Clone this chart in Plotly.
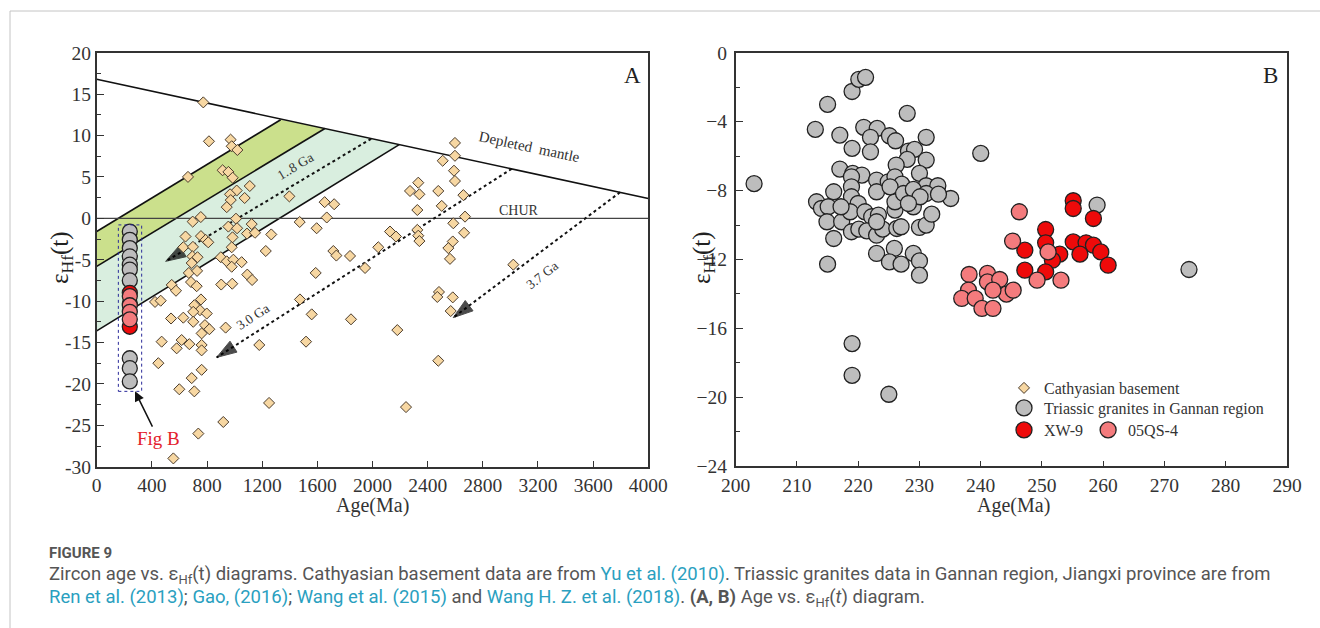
import plotly.graph_objects as go

# ---------------- Panel A: Cathyasian basement zircons ----------------
basement_age = [773, 814, 971, 979, 1020, 662, 913, 955, 986, 1110, 1015, 967, 972, 1073, 943,
                1397, 1653, 1722, 1668, 1472, 1595, 696, 755, 1010, 955, 1018, 1124, 1090, 1148,
                1266, 985, 644, 756, 790, 809, 628, 698, 979, 1226, 1716, 1738, 1837, 694, 731,
                900, 943, 991, 1051, 689, 1946, 1588, 668, 728, 979, 1092, 1127, 684, 725, 544,
                575, 903, 983, 423, 464, 756, 708, 749, 798, 700, 628, 539, 700, 785, 817, 935,
                761, 1474, 1559, 1844, 471, 616, 672, 580, 761, 761, 1179, 1518, 447, 761, 689,
                599, 708, 1250, 918, 737, 556,
                2598, 2598, 2509, 2591, 2598, 2332, 2272, 2340, 2477, 2659, 2502, 2325, 2671,
                2586, 2664, 2127, 2170, 2325, 2332, 2340, 2582, 2550, 2042, 2562, 3021, 2482,
                2470, 2582, 2567, 2180, 2477, 2243]
basement_eps = [14.0, 9.3, 9.5, 8.7, 8.25, 5.0, 5.8, 5.6, 4.9, 3.9, 3.35, 2.9, 2.2, 2.45, 1.35,
                2.65, 1.95, 1.7, 0.1, -0.45, -1.2, -0.4, 0.15, -0.05, -1.0, -1.2, -0.7, -1.85, -1.75,
                -1.95, -2.3, -2.2, -2.15, -2.6, -2.9, -3.5, -3.45, -3.5, -3.95, -3.95, -4.5, -4.55,
                -4.6, -4.7, -4.7, -5.2, -5.0, -5.3, -5.4, -6.0, -6.6, -6.6, -6.35, -5.85, -6.8,
                -7.45, -7.7, -8.2, -8.05, -8.75, -8.0, -7.9, -10.1, -9.95, -9.8, -10.5, -11.1,
                -11.5, -11.3, -12.0, -12.1, -12.5, -12.9, -13.4, -13.2, -13.9, -9.8, -11.6, -12.2,
                -14.9, -14.7, -15.2, -15.7, -15.3, -15.95, -15.3, -14.9, -17.5, -18.3, -19.3,
                -20.65, -20.9, -22.3, -24.6, -26.0, -29.0,
                9.1, 7.55, 6.95, 5.75, 4.5, 4.3, 3.3, 2.9, 3.3, 2.8, 1.5, 1.0, 0.2,
                -0.6, -1.75, -1.6, -2.2, -1.4, -2.1, -2.75, -2.8, -3.6, -3.5, -4.9, -5.6, -8.9,
                -9.5, -9.55, -11.2, -13.5, -17.2, -22.8]

# Summary column of the Triassic samples plotted at ~240 Ma
column_age = 240
column_gray_eps = [-1.6, -2.6, -3.6, -4.6, -5.6, -6.2, -7.5, -16.9, -18.1, -19.7]
column_red_eps = [-9.0, -10.3, -13.1]
column_pink_eps = [-9.4, -10.5, -11.3, -12.2]

# Reference curves (age in Ma, epsilon Hf)
dm_age = [0, 4000]
dm_eps = [16.8, 2.4]
chur_age = [0, 4000]
chur_eps = [0, 0]
band_upper_age = [0, 1334, 1655, 0]
band_upper_eps = [-1.6, 11.9, 10.85, -5.8]
band_lower_age = [0, 1655, 2194, 0]
band_lower_eps = [-5.8, 10.85, 8.9, -13.6]
evo_lines = [([0, 1334], [-1.6, 11.9]), ([0, 1655], [-5.8, 10.85]), ([0, 2194], [-13.6, 8.9])]
# Crustal evolution trends (start on depleted mantle, end at arrow tip)
trend_age = [[1990, 500], [3009, 870], [3795, 2585]]
trend_eps = [[9.6, -5.2], [5.97, -16.8], [3.14, -12.0]]
trend_labels = ["1..8 Ga", "3.0 Ga", "3.7 Ga"]
trend_label_age = [1438, 1136, 3227]
trend_label_eps = [6.2, -11.9, -6.85]
trend_label_angle = [-31, -33, -38]

# ---------------- Panel B: Triassic granites, Gannan region ----------------
gannan_age = [203.0, 215.0, 213.0, 219.0, 220.1, 221.2, 228.0, 217.0, 220.9, 223.1, 222.0, 225.1,
              226.1, 231.1, 219.0, 222.0, 228.2, 229.2, 228.0, 231.1, 226.2, 240.0, 217.0, 219.1,
              220.6, 223.0, 224.9, 226.0, 227.1, 230.0, 231.1, 233.0, 235.1, 218.9, 218.9, 216.0,
              213.2, 214.0, 215.1, 214.9, 216.0, 215.0, 217.3, 218.9, 220.0, 218.7, 221.1, 222.2,
              223.3, 218.9, 220.1, 221.4, 223.0, 224.0, 226.3, 227.0, 230.0, 231.1, 232.0, 229.0,
              226.0, 226.0, 223.0, 225.2, 227.4, 229.0, 231.1, 233.1, 230.1, 228.2, 223.0, 223.0,
              225.9, 225.1, 227.0, 229.0, 230.0, 230.0, 217.2, 219.0, 219.0, 225.0, 259.0, 274.0]
gannan_eps = [-7.6, -3.0, -4.45, -2.25, -1.55, -1.43, -3.52, -4.78, -4.33, -4.39, -4.91, -4.82,
              -5.11, -4.91, -5.55, -5.75, -5.71, -5.61, -6.19, -6.23, -6.52, -5.84, -6.75, -7.0,
              -7.1, -7.39, -7.49, -7.2, -7.63, -7.0, -7.72, -7.72, -8.46, -7.2, -7.78, -8.07,
              -8.65, -9.04, -8.94, -9.81, -10.78, -12.27, -9.81, -8.36, -8.75, -9.23, -9.23, -9.52,
              -9.42, -10.39, -10.24, -10.34, -10.59, -10.24, -10.2, -10.1, -10.14, -10.0, -9.37, -8.94,
              -9.13, -8.65, -8.07, -7.78, -8.17, -7.93, -8.17, -8.21, -8.36, -8.75, -9.81, -11.65,
              -11.36, -12.14, -12.27, -11.65, -12.08, -12.91, -8.94, -16.88, -18.72, -19.82, -8.84, -12.58]
xw9_age = [255.1, 255.1, 258.4, 250.6, 250.6, 247.2, 255.1, 257.2, 258.4, 259.6, 260.8, 256.2,
           252.9, 251.7, 247.2, 250.6]
xw9_eps = [-8.59, -9.04, -9.62, -10.26, -11.03, -11.46, -10.98, -11.03, -11.17, -11.56, -12.33,
           -11.69, -11.69, -12.04, -12.62, -12.72]
qs4_age = [246.3, 245.2, 251.0, 249.2, 253.1, 238.1, 241.1, 241.1, 243.1, 238.0, 244.2, 245.3,
           242.0, 236.9, 239.1, 240.2, 242.0]
qs4_eps = [-9.23, -10.93, -11.56, -13.2, -13.2, -12.87, -12.81, -13.3, -13.16, -13.78, -14.01,
           -13.78, -13.78, -14.26, -14.26, -14.84, -14.84]

# Axis ticks
a_xticks = list(range(0, 4001, 400))
a_yticks = list(range(-30, 21, 5))
a_yticklabels = [str(v) for v in a_yticks]
b_xticks = list(range(200, 291, 10))
b_yticks = list(range(-24, 1, 4))
b_yticklabels = ["0" if v == 0 else "\u2212" + str(-v) for v in b_yticks]

SERIF = "Liberation Serif"
CAPTION_FONT = "Roboto"
TAN = "#f7d7a2"
GRAY = "#bdbdbd"
RED = "#ee0a0a"
PINK = "#f47b7d"
LINK = "#2aa0c0"
TICKFONT = dict(family=SERIF, size=19.5, color="#333")
LEGENDFONT = dict(family=SERIF, size=16, color="#333")
W, H = 1320, 628


def px(x):
    return x / W


def py(y):
    return 1 - y / H


fig = go.Figure()

# Shaded crustal-evolution bands
fig.add_trace(go.Scatter(x=band_lower_age, y=band_lower_eps, fill="toself", mode="none",
                         fillcolor="#d9eedf", showlegend=False, hoverinfo="skip",
                         xaxis="x", yaxis="y"))
fig.add_trace(go.Scatter(x=band_upper_age, y=band_upper_eps, fill="toself", mode="none",
                         fillcolor="#cbe08c", showlegend=False, hoverinfo="skip",
                         xaxis="x", yaxis="y"))
for ages, eps in evo_lines:
    fig.add_trace(go.Scatter(x=ages, y=eps, mode="lines", line=dict(color="#111", width=1.6),
                             showlegend=False, hoverinfo="skip", xaxis="x", yaxis="y"))
fig.add_trace(go.Scatter(x=dm_age, y=dm_eps, mode="lines", line=dict(color="#111", width=1.6),
                         showlegend=False, hoverinfo="skip", xaxis="x", yaxis="y"))
fig.add_trace(go.Scatter(x=chur_age, y=chur_eps, mode="lines", line=dict(color="#444", width=1.2),
                         showlegend=False, hoverinfo="skip", xaxis="x", yaxis="y"))

# Dotted evolution trends with solid arrowheads
for ages, eps in zip(trend_age, trend_eps):
    fig.add_trace(go.Scatter(x=ages, y=eps, mode="lines",
                             line=dict(color="#111", width=2, dash="dot"),
                             showlegend=False, hoverinfo="skip", xaxis="x", yaxis="y"))
    fig.add_trace(go.Scatter(x=ages, y=eps, mode="markers",
                             marker=dict(symbol="arrow", angleref="previous", size=[0, 21],
                                         color="#000", line=dict(width=1, color="#000")),
                             showlegend=False, hoverinfo="skip", xaxis="x", yaxis="y"))

# Basement diamonds
fig.add_trace(go.Scatter(x=basement_age, y=basement_eps, mode="markers", name="Cathyasian basement",
                         marker=dict(symbol="diamond", size=8.5, color=TAN,
                                     line=dict(color="#4a3b2b", width=1)),
                         legend="legend", xaxis="x", yaxis="y"))

# Summary column
fig.add_trace(go.Scatter(x=[column_age] * len(column_gray_eps), y=column_gray_eps, mode="markers",
                         marker=dict(size=15, color=GRAY, line=dict(color="#222", width=1.3)),
                         showlegend=False, xaxis="x", yaxis="y"))
fig.add_trace(go.Scatter(x=[column_age] * len(column_red_eps), y=column_red_eps, mode="markers",
                         marker=dict(size=15, color=RED, line=dict(color="#222", width=1.3)),
                         showlegend=False, xaxis="x", yaxis="y"))
fig.add_trace(go.Scatter(x=[column_age] * len(column_pink_eps), y=column_pink_eps, mode="markers",
                         marker=dict(size=15, color=PINK, line=dict(color="#222", width=1.3)),
                         showlegend=False, xaxis="x", yaxis="y"))

# Panel B points
fig.add_trace(go.Scatter(x=gannan_age, y=gannan_eps, mode="markers",
                         name="Triassic granites in Gannan region",
                         marker=dict(size=16, color=GRAY, line=dict(color="#222", width=1.3)),
                         legend="legend2", xaxis="x2", yaxis="y2"))
fig.add_trace(go.Scatter(x=xw9_age, y=xw9_eps, mode="markers", name="XW-9",
                         marker=dict(size=16, color=RED, line=dict(color="#222", width=1.3)),
                         legend="legend3", xaxis="x2", yaxis="y2"))
fig.add_trace(go.Scatter(x=qs4_age, y=qs4_eps, mode="markers", name="05QS-4",
                         marker=dict(size=16, color=PINK, line=dict(color="#222", width=1.3)),
                         legend="legend3", xaxis="x2", yaxis="y2"))


def axis(**kw):
    base = dict(showgrid=False, zeroline=False, showline=True, mirror=True, automargin=False,
                linecolor="#333", linewidth=1.6, ticks="inside", tickcolor="#333",
                tickwidth=1.3, tickfont=TICKFONT)
    base.update(kw)
    return base


def legend_row(x, y):
    return dict(x=px(x), y=py(y), xanchor="left", yanchor="top", orientation="h",
                bgcolor="rgba(0,0,0,0)", itemwidth=30, font=LEGENDFONT)


def note(x, y, text, size, color="#333", family=SERIF, xa="center", ya="middle", angle=0):
    return dict(x=px(x), y=py(y), xref="paper", yref="paper", text=text, showarrow=False,
                xanchor=xa, yanchor=ya, textangle=angle,
                font=dict(family=family, size=size, color=color))


annotations = []
for text, ax_, ay_, ang in zip(trend_labels, trend_label_age, trend_label_eps, trend_label_angle):
    annotations.append(dict(x=ax_, y=ay_, xref="x", yref="y", text=text, showarrow=False,
                            xanchor="center", yanchor="middle",
                            textangle=ang, font=dict(family=SERIF, size=13.5, color="#333")))
annotations += [
    dict(x=3142, y=8.65, xref="x", yref="y", text="Depleted  mantle", showarrow=False,
         xanchor="center", yanchor="middle",
         textangle=12, font=dict(family=SERIF, size=15, color="#333")),
    dict(x=3065, y=0.95, xref="x", yref="y", text="CHUR", showarrow=False,
         xanchor="center", yanchor="middle",
         font=dict(family=SERIF, size=14, color="#333")),
    dict(x=278, y=-20.9, ax=447, ay=-26.6, xref="x", yref="y", axref="x", ayref="y",
         text="Fig B", showarrow=True, arrowhead=2, arrowsize=1.3, arrowwidth=1.5,
         arrowcolor="#111", font=dict(family=SERIF, size=19, color="#e3202c")),
    note(632.7, 75, "A", 23, "#222"),
    note(1270, 75, "B", 23, "#222"),
    note(61, 258, "\u03b5<sub>Hf</sub>(t)", 25, "#222", angle=-90),
    note(703, 258, "\u03b5<sub>Hf</sub>(t)", 25, "#222", angle=-90),
    note(372, 505, "Age(Ma)", 20),
    note(1013, 505, "Age(Ma)", 20),
    note(47, 553, "<b>FIGURE 9</b>", 15, "#555", CAPTION_FONT, xa="left"),
    note(47, 575,
         "Zircon age vs. \u03b5<sub>Hf</sub>(t) diagrams. Cathyasian basement data are from "
         f"<span style='color:{LINK}'>Yu et al. (2010)</span>. Triassic granites data in "
         "Gannan region, Jiangxi province are from", 18.5, "#555", CAPTION_FONT, xa="left"),
    note(47, 598,
         f"<span style='color:{LINK}'>Ren et al. (2013)</span>; "
         f"<span style='color:{LINK}'>Gao, (2016)</span>; "
         f"<span style='color:{LINK}'>Wang et al. (2015)</span> and "
         f"<span style='color:{LINK}'>Wang H. Z. et al. (2018)</span>. "
         "<b>(A, B)</b> Age vs. \u03b5<sub>Hf</sub>(<i>t</i>) diagram.",
         18.5, "#555", CAPTION_FONT, xa="left"),
]

fig.update_layout(
    width=W, height=H, autosize=False,
    margin=dict(l=0, r=0, t=0, b=0, pad=0, autoexpand=False),
    font=dict(family=SERIF, color="#333"),
    paper_bgcolor="white", plot_bgcolor="white",
    xaxis=axis(domain=[px(96.7), px(648.3)], range=[0, 4000],
               tickvals=a_xticks, ticklen=6, anchor="y"),
    yaxis=axis(domain=[py(466.7), py(52.7)], range=[-30, 20],
               tickvals=a_yticks, ticktext=a_yticklabels, ticklen=7, ticklabelstandoff=0,
               minor=dict(ticks="inside", dtick=2.5, ticklen=4, tickcolor="#333"), anchor="x"),
    xaxis2=axis(domain=[px(735.7), px(1287)], range=[200, 290],
                tickvals=b_xticks, ticklen=6, anchor="y2"),
    yaxis2=axis(domain=[py(466.3), py(52.7)], range=[-24, 0],
                tickvals=b_yticks, ticktext=b_yticklabels, ticklen=7, ticklabelstandoff=3,
                minor=dict(ticks="inside", dtick=2, ticklen=4, tickcolor="#333"), anchor="x2"),
    legend=legend_row(1004, 371),
    legend2=legend_row(1004, 391),
    legend3=legend_row(1004, 413),
    shapes=[
        dict(type="rect", xref="x", yref="y", x0=157, x1=326, y0=-20.9, y1=-0.8,
             line=dict(color="#2a2a9a", width=1, dash="dot"), layer="above"),
        dict(type="line", xref="paper", yref="paper", x0=px(10), x1=1, y0=py(11), y1=py(11),
             line=dict(color="#c4c4c4", width=1)),
        dict(type="line", xref="paper", yref="paper", x0=px(10), x1=px(10), y0=0, y1=py(11),
             line=dict(color="#c4c4c4", width=1)),
    ],
    annotations=annotations,
)

# Page without body margin so the 1320x628 figure fills the window exactly
fig.write_html("out.html",
               post_script="document.body.style.margin='0';document.body.style.overflow='hidden';")
